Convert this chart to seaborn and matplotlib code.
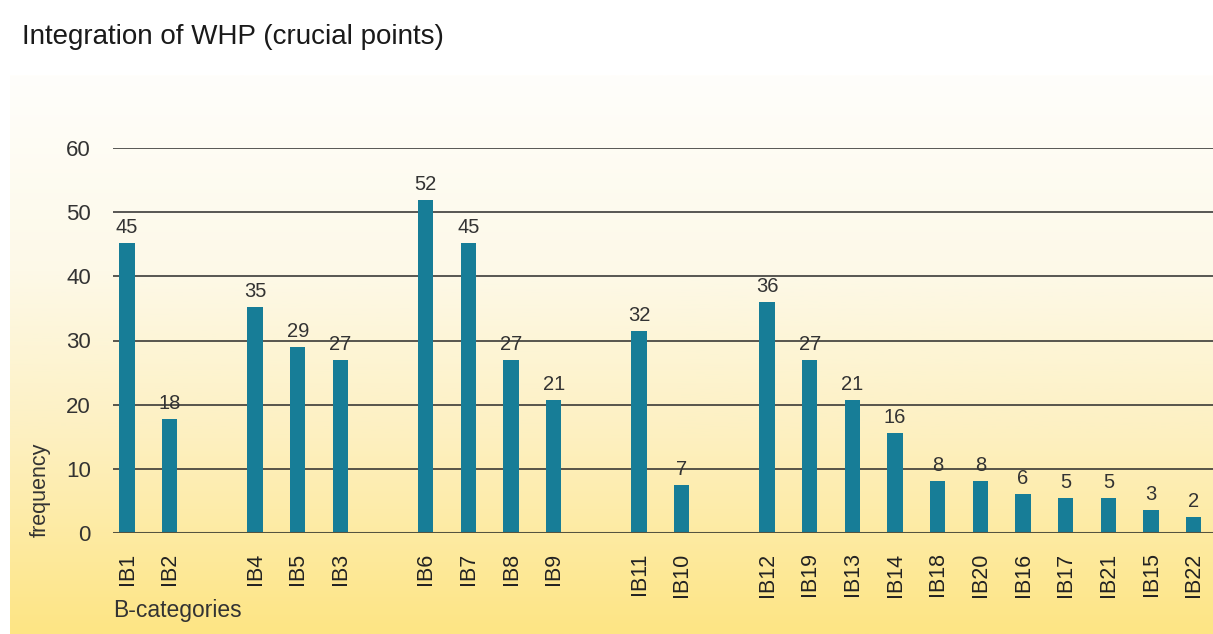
import numpy as np
import pandas as pd
import matplotlib
matplotlib.use("Agg")
import matplotlib.pyplot as plt
from matplotlib.colors import LinearSegmentedColormap
import seaborn as sns

# data
categories = ["IB1", "IB2", "IB4", "IB5", "IB3", "IB6", "IB7", "IB8", "IB9",
              "IB11", "IB10", "IB12", "IB19", "IB13", "IB14", "IB18", "IB20",
              "IB16", "IB17", "IB21", "IB15", "IB22"]
# slot index on the x axis (empty slot between the groups)
slots = [0, 1, 3, 4, 5, 7, 8, 9, 10, 12, 13, 15, 16, 17, 18, 19, 20,
         21, 22, 23, 24, 25]
heights = [45.2, 17.8, 35.2, 29.0, 27.0, 51.9, 45.2, 27.0, 20.7, 31.5, 7.5,
           36.0, 27.0, 20.7, 15.6, 8.1, 8.1, 6.1, 5.5, 5.5, 3.6, 2.5]
labels = [45, 18, 35, 29, 27, 52, 45, 27, 21, 32, 7, 36, 27, 21, 16, 8, 8,
          6, 5, 5, 3, 2]
yticks = [0, 10, 20, 30, 40, 50, 60]

sns.set_theme(style="white")
plt.rcParams['font.family'] = ['Liberation Sans', 'DejaVu Sans']

W, H = 1213, 634
fig = plt.figure(figsize=(W / 100, H / 100), dpi=100)
fig.patch.set_facecolor("white")

# yellow gradient panel behind the chart
bg = fig.add_axes([10 / W, 0, 1 - 10 / W, (H - 75) / H], zorder=-10)
cmap = LinearSegmentedColormap.from_list(
    "panel", [(0.0, "#fffefb"), (0.35, "#fdf9e8"), (0.65, "#fdf0c0"),
              (1.0, "#fee584")])
grad = np.linspace(0, 1, 256).reshape(-1, 1)
bg.imshow(grad, aspect="auto", cmap=cmap, extent=[0, 1, 0, 1], origin="upper")
bg.set_axis_off()

ax = fig.add_axes([113 / W, (H - 533) / H, 1 - 113 / W, (533 - 148) / H])
ax.patch.set_alpha(0)

df = pd.DataFrame({"slot": slots, "value": heights, "cat": categories})
sns.barplot(data=df, x="slot", y="value", native_scale=True, width=0.36,
            color="#177d97", saturation=1, linewidth=0, ax=ax, zorder=3)

ax.set_xlim(-0.33, 25.45)
ax.set_ylim(0, 60)
ax.set_yticks(yticks)
ax.set_yticklabels([str(t) for t in yticks], fontsize=16, color="#333333")
ax.yaxis.grid(True, color="#2a2a2a", linewidth=1.1, zorder=1)
ax.set_axisbelow(True)
ax.axhline(0, color="#55533f", linewidth=2.2, zorder=4)
ax.tick_params(axis="y", length=0, pad=16)
ax.tick_params(axis="x", length=0, pad=14)
ax.set_xticks(slots)
ax.set_xticklabels(categories, rotation=90, fontsize=15.5, color="#222222")
for s in ax.spines.values():
    s.set_visible(False)

for sl, h, lab in zip(slots, heights, labels):
    ax.text(sl, h + 0.9, str(lab), ha="center", va="bottom", fontsize=14.5,
            color="#333333", zorder=5)

ax.set_xlabel("")
ax.set_ylabel("")
fig.text(40 / W, (H - 537) / H, "frequency", rotation=90, ha="center",
         va="bottom", fontsize=15.5, color="#333333")
fig.text(113 / W, (H - 610) / H, "B-categories", ha="left", va="center",
         fontsize=16.5, color="#333333")
fig.text(22 / W, (H - 37) / H, "Integration of WHP (crucial points)",
         ha="left", va="center", fontsize=20, color="#1a1a1a")

fig.savefig("out.png", dpi=100)
